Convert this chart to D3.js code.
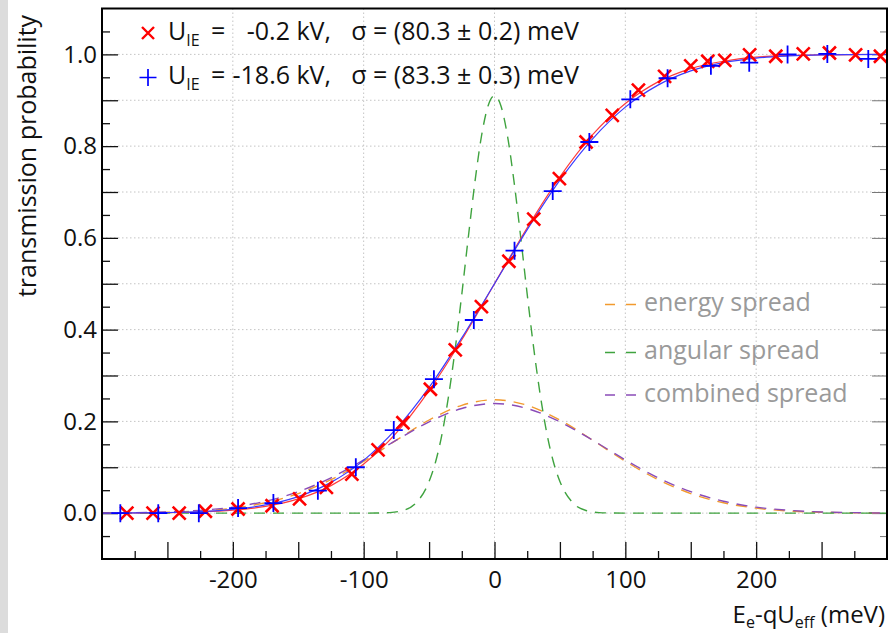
<!DOCTYPE html>
<html>
<head>
<meta charset="utf-8">
<script src="https://cdn.jsdelivr.net/npm/d3@7"></script>
<style>
  body { margin: 0; background: #fff; }
  svg text { font-family: "Open Sans", "Noto Sans", sans-serif; }
</style>
</head>
<body>
<svg id="chart"></svg>
<script>
const redX = [-281, -261, -241, -221, -196, -170, -149, -128.5, -109, -89, -70, -49, -30, -10, 11, 30, 49.6, 70, 90, 110, 130, 150, 163, 176, 195, 215, 236, 256, 276, 295];
const redY = [0, 0, 0, 0.004, 0.009, 0.016, 0.031, 0.056, 0.085, 0.138, 0.197, 0.27, 0.356, 0.45, 0.549, 0.641, 0.729, 0.809, 0.867, 0.922, 0.952, 0.975, 0.985, 0.987, 0.999, 0.996, 1.001, 1.003, 0.999, 0.996];

const blueX = [-286, -257, -226, -196, -169, -135, -106, -77, -46.3, -15.8, 15.3, 44.5, 72.5, 103.8, 132.3, 165.4, 194.7, 224, 254.4, 285.7];
const blueY = [0, 0, 0, 0.011, 0.022, 0.049, 0.10, 0.181, 0.292, 0.421, 0.572, 0.702, 0.809, 0.902, 0.948, 0.975, 0.982, 1.0, 1.001, 0.99];

// fitted curves, every 25 meV
const fitX = [-300, -275, -250, -225, -200, -175, -150, -125, -100, -75, -50, -25, 0, 25, 50, 75, 100, 125, 150, 175, 200, 225, 250, 275, 300];
const redFitY = [0.0001, 0.0003, 0.0009, 0.0025, 0.0064, 0.0146, 0.031, 0.060, 0.107, 0.175, 0.267, 0.378, 0.5, 0.622, 0.733, 0.825, 0.893, 0.940, 0.969, 0.985, 0.994, 0.9975, 0.999, 0.9997, 1.0];
const blueFitY = [0.0002, 0.0005, 0.0013, 0.0034, 0.0082, 0.0178, 0.036, 0.067, 0.115, 0.184, 0.274, 0.382, 0.5, 0.618, 0.726, 0.816, 0.885, 0.933, 0.964, 0.982, 0.992, 0.9965, 0.9987, 0.9995, 1.0];

// spread curves (dashed)
const energyY = [0.0002, 0.0007, 0.0019, 0.0047, 0.0108, 0.0226, 0.0426, 0.073, 0.113, 0.159, 0.203, 0.235, 0.247, 0.235, 0.203, 0.159, 0.113, 0.073, 0.0426, 0.0226, 0.0108, 0.0047, 0.0019, 0.0007, 0.0002];
const combinedY = [0.0003, 0.0010, 0.0026, 0.0061, 0.0131, 0.0259, 0.0467, 0.077, 0.116, 0.159, 0.199, 0.228, 0.239, 0.228, 0.199, 0.159, 0.116, 0.077, 0.0467, 0.0259, 0.0131, 0.0061, 0.0026, 0.0010, 0.0003];
const angX = [-300, -100, -90, -80, -70, -60, -50, -45, -40, -35, -30, -25, -20, -15, -10, -5, 0, 5, 10, 15, 20, 25, 30, 35, 40, 45, 50, 60, 70, 80, 90, 100, 300];
const angY = [0, 0, 0.0002, 0.0012, 0.0058, 0.022, 0.069, 0.112, 0.174, 0.257, 0.359, 0.477, 0.602, 0.721, 0.821, 0.887, 0.91, 0.887, 0.821, 0.721, 0.602, 0.477, 0.359, 0.257, 0.174, 0.112, 0.069, 0.022, 0.0058, 0.0012, 0.0002, 0, 0];

const yTickLabels = [0, 0.2, 0.4, 0.6, 0.8, 1.0];
const xTickLabels = [-200, -100, 0, 100, 200];

const legendFits = [
  {marker: "x", color: "#ff0000", volt: "-0.2 kV,", sigma: "\u03c3 = (80.3 \u00b1 0.2) meV"},
  {marker: "+", color: "#0000ff", volt: "-18.6 kV,", sigma: "\u03c3 = (83.3 \u00b1 0.3) meV"}
];
const legendSpreads = [
  {name: "energy spread", color: "#f29a2e"},
  {name: "angular spread", color: "#3fa33f"},
  {name: "combined spread", color: "#8a4cb8"}
];

const W = 889, H = 633;
const margin = {top: 8.5, left: 102, right: 2, bottom: 74};
const width = W - margin.left - margin.right;
const height = H - margin.top - margin.bottom;

const svg = d3.select("#chart").attr("width", W).attr("height", H);

// light gray strip at the left edge
svg.append("rect").attr("x", 0).attr("y", 0).attr("width", 8).attr("height", H).attr("fill", "#dcdcdc");

const chart = svg.append("g").attr("transform", `translate(${margin.left},${margin.top})`);

const x = d3.scaleLinear().domain([-300, 300]).range([0, width]);
const y = d3.scaleLinear().domain([-0.1, 1.1]).range([height, 0]);

// grid
chart.append("g").selectAll("line.vg")
  .data(xTickLabels).join("line")
  .attr("x1", d => x(d)).attr("x2", d => x(d))
  .attr("y1", 0).attr("y2", height)
  .attr("stroke", "#c4c4c4").attr("stroke-dasharray", "1.5,2.5");
chart.append("g").selectAll("line.hg")
  .data(d3.range(0, 11).map(i => i / 10)).join("line")
  .attr("x1", 0).attr("x2", width)
  .attr("y1", d => y(d)).attr("y2", d => y(d))
  .attr("stroke", "#c4c4c4").attr("stroke-dasharray", "1.5,2.5");

// axes, ticks pointing inwards
const xMajor = d3.range(-250, 300, 50);
const xMinor = d3.range(-275, 300, 50);
const yMajor = d3.range(0, 11).map(i => i / 10);
const yMinor = d3.range(-1, 11).map(i => i / 10 + 0.05);

function tickAxis(axis, vals, size) {
  return axis.tickValues(vals).tickSizeInner(-size).tickSizeOuter(0).tickFormat("");
}

chart.append("g").attr("transform", `translate(0,${height})`)
  .call(tickAxis(d3.axisBottom(x), xMajor, 17));
chart.append("g").attr("transform", `translate(0,${height})`)
  .call(tickAxis(d3.axisBottom(x), xMinor, 8));
chart.append("g").attr("class", "xlab").attr("transform", `translate(0,${height})`)
  .call(d3.axisBottom(x).tickValues(xTickLabels).tickSize(0).tickPadding(12).tickFormat(d => String(d)));

chart.append("g").call(tickAxis(d3.axisLeft(y), yMajor, 16));
chart.append("g").call(tickAxis(d3.axisLeft(y), yMinor, 8));
chart.append("g").attr("class", "ylab")
  .call(d3.axisLeft(y).tickValues(yTickLabels).tickSize(0).tickPadding(5).tickFormat(d3.format(".1f")));

chart.append("g").attr("class", "rticks").attr("transform", `translate(${width},0)`)
  .call(tickAxis(d3.axisRight(y), yMajor, 15));
chart.append("g").attr("class", "rticks").attr("transform", `translate(${width},0)`)
  .call(tickAxis(d3.axisRight(y), yMinor, 7));

chart.selectAll(".domain").remove();
chart.selectAll(".tick line").attr("stroke", "#111").attr("stroke-width", 1.3);
chart.selectAll(".rticks .tick line").attr("stroke", "#777").attr("stroke-width", 1);
chart.selectAll(".xlab text, .ylab text")
  .attr("fill", "#111").style("font-size", "24px");
chart.selectAll(".xlab text").attr("dy", "0.71em");

// dashed spread curves
const line = d3.line().x(d => x(d[0])).y(d => y(d[1])).curve(d3.curveMonotoneX);
const dashed = "11,8";
chart.append("path").datum(fitX.map((v, i) => [v, energyY[i]]))
  .attr("d", line).attr("fill", "none").attr("stroke", legendSpreads[0].color)
  .attr("stroke-width", 1.4).attr("stroke-dasharray", dashed);
chart.append("path").datum(fitX.map((v, i) => [v, combinedY[i]]))
  .attr("d", line).attr("fill", "none").attr("stroke", legendSpreads[2].color)
  .attr("stroke-width", 1.4).attr("stroke-dasharray", dashed).attr("stroke-dashoffset", 4);
chart.append("path").datum(angX.map((v, i) => [v, angY[i]]))
  .attr("d", line).attr("fill", "none").attr("stroke", legendSpreads[1].color)
  .attr("stroke-width", 1.4).attr("stroke-dasharray", dashed);

// fit functions
chart.append("path").datum(fitX.map((v, i) => [v, redFitY[i]]))
  .attr("d", line).attr("fill", "none").attr("stroke", "#ff3b3b").attr("stroke-width", 1.2);
chart.append("path").datum(fitX.map((v, i) => [v, blueFitY[i]]))
  .attr("d", line).attr("fill", "none").attr("stroke", "#3b3bff").attr("stroke-width", 1.2);

// markers
const crossPath = s => `M${-s},${-s}L${s},${s}M${-s},${s}L${s},${-s}`;
const plusPath = s => `M${-s},0L${s},0M0,${-s}L0,${s}`;

chart.append("g").selectAll("path")
  .data(redX.map((v, i) => [v, redY[i]])).join("path")
  .attr("transform", d => `translate(${x(d[0])},${y(d[1])})`)
  .attr("d", crossPath(6.5)).attr("stroke", "#ff0000").attr("stroke-width", 2.6).attr("fill", "none");
chart.append("g").selectAll("path")
  .data(blueX.map((v, i) => [v, blueY[i]])).join("path")
  .attr("transform", d => `translate(${x(d[0])},${y(d[1])})`)
  .attr("d", plusPath(9)).attr("stroke", "#0000ff").attr("stroke-width", 1.8).attr("fill", "none");

// frame
chart.append("rect").attr("width", width).attr("height", height)
  .attr("fill", "none").attr("stroke", "#000").attr("stroke-width", 2);

// legend for the two data sets
const leg = svg.append("g");
legendFits.forEach((d, i) => {
  const ly = 40 + i * 44;
  const my = 33 + i * 44.5;
  leg.append("path").attr("transform", `translate(148,${my})`)
    .attr("d", d.marker === "x" ? crossPath(6) : plusPath(8.5))
    .attr("stroke", d.color).attr("stroke-width", d.marker === "x" ? 2.4 : 1.7).attr("fill", "none");
  const t = leg.append("text").attr("x", 168).attr("y", ly).style("font-size", "25px").attr("fill", "#111");
  t.append("tspan").text("U");
  t.append("tspan").attr("dy", 6).style("font-size", "16px").text("IE");
  leg.append("text").attr("x", 211).attr("y", ly).style("font-size", "25px").attr("fill", "#111").text("=");
  leg.append("text").attr("x", 331).attr("y", ly).attr("text-anchor", "end").style("font-size", "25px").attr("fill", "#111").text(d.volt);
  leg.append("text").attr("x", 579).attr("y", ly).attr("text-anchor", "end").style("font-size", "25px").attr("fill", "#111").text(d.sigma);
});

// legend for the spreads
const spreadRows = [311, 359, 401.5];
legendSpreads.forEach((d, i) => {
  const ly = spreadRows[i];
  leg.append("line").attr("x1", 605).attr("x2", 636).attr("y1", ly - 6.5).attr("y2", ly - 6.5)
    .attr("stroke", d.color).attr("stroke-width", 1.4).attr("stroke-dasharray", "10,11");
  leg.append("text").attr("x", 644).attr("y", ly).style("font-size", "25px").attr("fill", "#9a9a9a").text(d.name);
});

// axis titles
const xt = svg.append("text").attr("x", 885).attr("y", 623).attr("text-anchor", "end")
  .style("font-size", "24px").attr("fill", "#111");
xt.append("tspan").text("E");
xt.append("tspan").attr("dy", 5).style("font-size", "16px").text("e");
xt.append("tspan").attr("dy", -5).text("-qU");
xt.append("tspan").attr("dy", 5).style("font-size", "16px").text("eff");
xt.append("tspan").attr("dy", -5).text(" (meV)");

svg.append("text").attr("transform", "translate(36,156) rotate(-90)")
  .attr("text-anchor", "middle").style("font-size", "25px").attr("fill", "#111")
  .text("transmission probability");
</script>
</body>
</html>
